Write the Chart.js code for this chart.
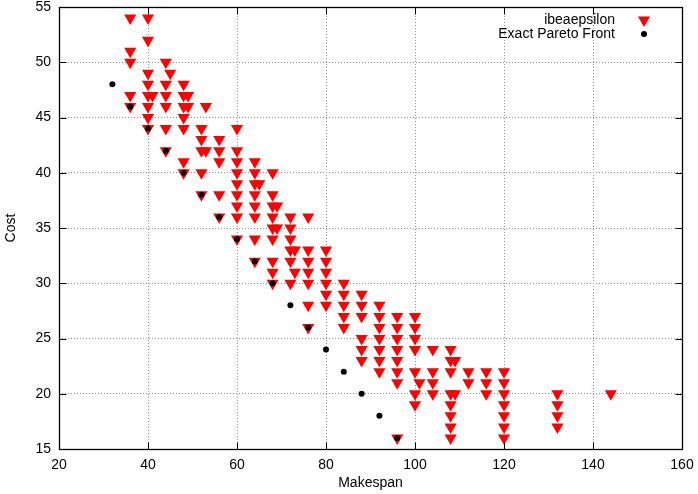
<!DOCTYPE html>
<html><head><meta charset="utf-8">
<script src="https://cdn.jsdelivr.net/npm/chart.js@4/dist/chart.umd.min.js"></script>
<style>html,body{margin:0;padding:0;background:#fff;}</style>
</head><body>
<canvas id="c" width="698" height="494"></canvas>
<script>
const seriesNames = ['ibeaepsilon', 'Exact Pareto Front'];
const axisTitles = ['Makespan', 'Cost'];
const xTicks = [20, 40, 60, 80, 100, 120, 140, 160];
const yTicks = [15, 20, 25, 30, 35, 40, 45, 50, 55];

const ibeaMakespan = [
  36, 40,
  40,
  36,
  36, 44,
  40, 45,
  40, 44, 48,
  36, 40, 41, 44, 48, 49,
  36, 40, 44, 48, 49, 53,
  40, 48,
  40, 44, 48, 52, 60,
  52, 56,
  44, 52, 53, 56, 60,
  48, 56, 60, 64,
  48, 52, 60, 64, 68,
  60, 64, 65,
  52, 56, 60, 64, 68,
  60, 64, 68, 69,
  56, 60, 64, 68, 72, 76,
  68, 69, 72,
  60, 64, 68, 72,
  72, 73, 76, 80,
  64, 68, 72, 76, 80,
  68, 73, 76, 80,
  68, 72, 76, 80, 84,
  80, 84, 88,
  76, 80, 84, 88, 92,
  84, 88, 92, 96, 100,
  76, 84, 92, 96, 100,
  88, 92, 96, 100,
  88, 92, 96, 100, 104, 108,
  88, 92, 96, 108, 109,
  92, 96, 100, 104, 108, 112, 116, 120,
  96, 101, 104, 112, 116, 120,
  100, 104, 108, 109, 116, 120, 132, 144,
  100, 108, 120, 132,
  108, 120, 132,
  108, 120, 132,
  96, 108, 120
];
const ibeaCost = [
  54, 54,
  52,
  51,
  50, 50,
  49, 49,
  48, 48, 48,
  47, 47, 47, 47, 47, 47,
  46, 46, 46, 46, 46, 46,
  45, 45,
  44, 44, 44, 44, 44,
  43, 43,
  42, 42, 42, 42, 42,
  41, 41, 41, 41,
  40, 40, 40, 40, 40,
  39, 39, 39,
  38, 38, 38, 38, 38,
  37, 37, 37, 37,
  36, 36, 36, 36, 36, 36,
  35, 35, 35,
  34, 34, 34, 34,
  33, 33, 33, 33,
  32, 32, 32, 32, 32,
  31, 31, 31, 31,
  30, 30, 30, 30, 30,
  29, 29, 29,
  28, 28, 28, 28, 28,
  27, 27, 27, 27, 27,
  26, 26, 26, 26, 26,
  25, 25, 25, 25,
  24, 24, 24, 24, 24, 24,
  23, 23, 23, 23, 23,
  22, 22, 22, 22, 22, 22, 22, 22,
  21, 21, 21, 21, 21, 21,
  20, 20, 20, 20, 20, 20, 20, 20,
  19, 19, 19, 19,
  18, 18, 18,
  17, 17, 17,
  16, 16, 16
];
const paretoMakespan = [32, 36, 40, 44, 48, 52, 56, 60, 64, 68, 72, 76, 80, 84, 88, 92, 96];
const paretoCost =     [48, 46, 44, 42, 40, 38, 36, 34, 32, 30, 28, 26, 24, 22, 20, 18, 16];

const FONT = "'Liberation Sans', Arial, Helvetica, sans-serif";
Chart.defaults.font.family = FONT;
Chart.defaults.font.size = 14;
Chart.defaults.color = '#000';

function toPoints(xs, ys) { return xs.map((x, i) => ({ x: x, y: ys[i] })); }

const framePlugin = {
  id: 'frame',
  afterDraw(chart) {
    const ctx = chart.ctx;
    const a = chart.chartArea;
    const xs = chart.scales.x, ys = chart.scales.y;
    const L = Math.round(a.left) + 0.5, R = Math.round(a.right) + 0.5;
    const T = Math.round(a.top) + 0.5, B = Math.round(a.bottom) + 0.5;
    ctx.save();
    ctx.strokeStyle = '#000';
    ctx.lineWidth = 1;
    ctx.setLineDash([]);
    ctx.beginPath();
    const tl = 7;
    xTicks.forEach(v => {
      const px = Math.round(xs.getPixelForValue(v)) + 0.5;
      ctx.moveTo(px, B); ctx.lineTo(px, B - tl);
      ctx.moveTo(px, T); ctx.lineTo(px, T + tl);
    });
    yTicks.forEach(v => {
      const py = Math.round(ys.getPixelForValue(v)) + 0.5;
      ctx.moveTo(L, py); ctx.lineTo(L + tl, py);
      ctx.moveTo(R, py); ctx.lineTo(R - tl, py);
    });
    ctx.stroke();
    ctx.lineWidth = 1.3;
    ctx.strokeRect(L, T, R - L, B - T);
    // legend
    ctx.fillStyle = '#000';
    ctx.font = '14px ' + FONT;
    ctx.textAlign = 'right';
    ctx.textBaseline = 'middle';
    const tx = 615, mx = 644;
    ctx.fillText(seriesNames[0], tx, 20);
    ctx.fillText(seriesNames[1], tx, 34);
    const r = 7;
    ctx.fillStyle = '#ff0000';
    ctx.beginPath();
    ctx.moveTo(mx, 20 + r);
    ctx.lineTo(mx - r * Math.sin(Math.PI / 3), 20 - r / 2);
    ctx.lineTo(mx + r * Math.sin(Math.PI / 3), 20 - r / 2);
    ctx.closePath();
    ctx.fill();
    ctx.fillStyle = '#000';
    ctx.beginPath();
    ctx.arc(mx, 34, 3, 0, Math.PI * 2);
    ctx.fill();
    ctx.restore();
  }
};

new Chart(document.getElementById('c'), {
  type: 'scatter',
  data: {
    datasets: [
      {
        label: seriesNames[0],
        data: toPoints(ibeaMakespan, ibeaCost),
        pointStyle: 'triangle',
        rotation: 180,
        radius: 7,
        hoverRadius: 7,
        backgroundColor: '#ff0000',
        borderColor: '#ff0000',
        borderWidth: 0,
        order: 1
      },
      {
        label: seriesNames[1],
        data: toPoints(paretoMakespan, paretoCost),
        pointStyle: 'circle',
        radius: 3,
        hoverRadius: 3,
        backgroundColor: '#000',
        borderColor: '#000',
        borderWidth: 0,
        order: 0
      }
    ]
  },
  options: {
    responsive: false,
    animation: false,
    events: [],
    layout: { padding: 0 },
    plugins: { legend: { display: false }, tooltip: { enabled: false } },
    scales: {
      x: {
        type: 'linear', min: 20, max: 160,
        afterBuildTicks: s => { s.ticks = xTicks.map(v => ({ value: v })); },
        afterFit: s => { s.height = 45; s.paddingLeft = 0; s.paddingRight = 16; },
        grid: { color: '#8c8c8c', lineWidth: 1, drawTicks: false },
        border: { display: false, dash: [1, 2] },
        ticks: { padding: 8, maxRotation: 0, autoSkip: false, color: '#000', font: { size: 14 } },
        title: { display: true, text: axisTitles[0], color: '#000', font: { size: 14 }, padding: { top: 2, bottom: 2 } }
      },
      y: {
        type: 'linear', min: 15, max: 55,
        afterBuildTicks: s => { s.ticks = yTicks.map(v => ({ value: v })); },
        afterFit: s => { s.width = 59; s.paddingTop = 7; s.paddingBottom = 0; },
        grid: { color: '#8c8c8c', lineWidth: 1, drawTicks: false },
        border: { display: false, dash: [1, 2] },
        ticks: { padding: 8, autoSkip: false, color: '#000', font: { size: 14 } },
        title: { display: true, text: axisTitles[1], color: '#000', font: { size: 14 }, padding: { top: 3, bottom: 3 } }
      }
    }
  },
  plugins: [framePlugin]
});
</script>
</body></html>
